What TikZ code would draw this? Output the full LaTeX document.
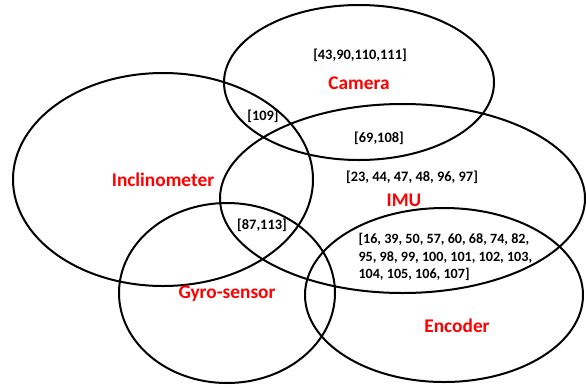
\documentclass[tikz,border=0pt]{standalone}
\usepackage{fontspec}
\setmainfont{Carlito}
\tikzset{every picture/.style={line width=0.75pt}}
\tikzset{
  setlabel/.style={text=red,font=\fontsize{14.5}{17}\selectfont\bfseries,inner sep=0.75pt},
  reflist/.style={text=black,font=\fontsize{10.8}{12.9}\selectfont\bfseries,inner sep=0.75pt},
  setline/.style={line width=1.5}
}

\begin{document}
\begin{tikzpicture}[x=0.75pt,y=0.75pt,yscale=-1,xscale=1]
\path (0,0) rectangle (586,387); %set diagram frame

%Shape: Ellipse [Camera]
\draw [setline] (359,82.5) ellipse (135 and 77.5);
%Shape: Ellipse [Inclinometer]
\draw [setline] (163,179.5) ellipse (150 and 106.5);
%Shape: Ellipse [IMU]
\draw [setline] (402.5,198.5) ellipse (182.5 and 94.5);
%Shape: Ellipse [Gyro-sensor]
\draw [setline] (227,293) ellipse (108 and 90);
%Shape: Ellipse [Encoder]
\draw [setline] (444,295) ellipse (139 and 87);

% Text Node
\node [setlabel] (camera) at (359,83) {Camera};
% Text Node
\node [setlabel] (inclino) at (163,180) {Inclinometer};
% Text Node
\node [setlabel] (imu) at (404,200) {IMU};
% Text Node
\node [setlabel] (gyro) at (227,294) {Gyro-sensor};
% Text Node
\node [setlabel] (encoder) at (457,326) {Encoder};

% Text Node
\node [reflist] (refcam) at (360,55) {[43,90,110,111]};
% Text Node
\node [reflist] (refcamincl) at (263,116) {[109]};
% Text Node
\node [reflist] (refcamimu) at (379,138) {[69,108]};
% Text Node
\node [reflist] (refimu) at (412,177) {[23, 44, 47, 48, 96, 97]};
% Text Node
\node [reflist] (refgyro) at (262,225) {[87,113]};
% Text Node
\node [reflist,anchor=west,align=left,font=\fontsize{10.6}{12.9}\selectfont\bfseries] (refenc) at (357,257) {[16, 39, 50, 57, 60, 68, 74, 82,\\95, 98, 99, 100, 101, 102, 103,\\104, 105, 106, 107]};

\end{tikzpicture}
\end{document}
